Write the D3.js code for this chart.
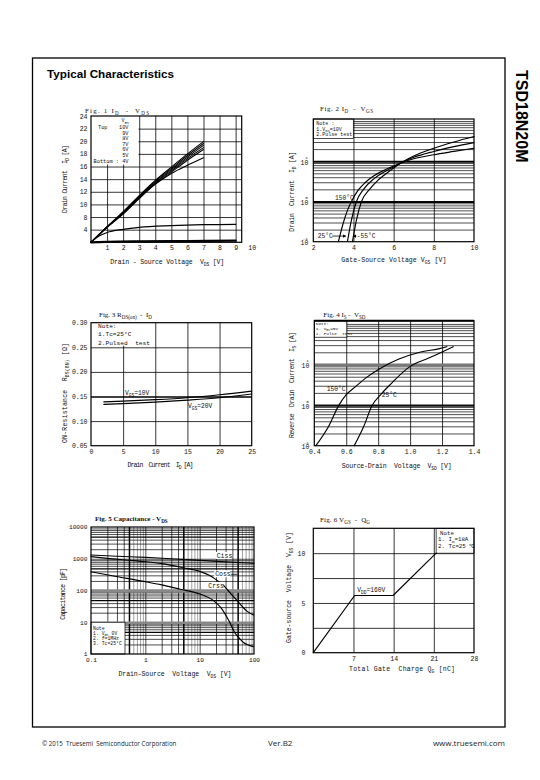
<!DOCTYPE html>
<html><head><meta charset="utf-8">
<script src="https://cdn.jsdelivr.net/npm/d3@7"></script>
<style>html,body{margin:0;padding:0;background:#fff;}</style>
</head><body>
<svg id="page" width="540" height="780"></svg>
<script>
// ================= DATA =================
// Fig.1  ID - VDS
const f1Vds   = [0, 1, 2, 3, 4, 5, 6, 7];
const f1Id10V = [0, 4.95, 8.85, 11.4, 13.8, 15.9, 18.0, 19.95];
const f1Id9V  = [0, 4.9, 8.75, 11.3, 13.65, 15.7, 17.75, 19.65];
const f1Id8V  = [0, 4.85, 8.65, 11.2, 13.5, 15.5, 17.5, 19.35];
const f1Id7V  = [0, 4.8, 8.55, 11.05, 13.35, 15.3, 17.25, 19.0];
const f1Id6V  = [0, 4.75, 8.45, 10.9, 13.2, 15.1, 17.0, 18.7];
const f1Id5V  = [0, 4.76, 8.7, 11.1, 13.2, 14.9, 16.2, 17.4];
const f1Vds4V = [0, 0.5, 1, 2, 3, 5, 7, 9];
const f1Id4V  = [0, 2.0, 3.1, 4.1, 4.75, 5.3, 5.6, 5.7];
const f1VdsLow = [0, 1, 3, 6, 9];
const f1IdLow  = [0, 0.15, 0.3, 0.4, 0.5];
const f1Legend = ["10V", "9V", "8V", "7V", "6V", "5V"];
const f1XTicks = [1, 2, 3, 4, 5, 6, 7, 8, 9, 10];
const f1YTicks = [24, 22, 20, 18, 16, 14, 12, 10, 8, 4];

// Fig.2  ID - VGS
const f2Vgs150 = [3.25, 3.5, 3.7, 3.9, 4.2, 4.6, 5.0, 5.5, 6.0, 6.5, 7.0, 8.0, 9.0, 10];
const f2Id150  = [0.1, 0.3, 0.6, 1.0, 1.8, 3.0, 4.3, 5.9, 7.6, 9.6, 11.5, 14.5, 17.5, 21];
const f2Vgs25  = [3.7, 3.9, 4.15, 4.5, 5.0, 5.5, 6.0, 6.5, 7.0, 8.0, 9.0, 10];
const f2Id25   = [0.1, 0.35, 1.0, 2.0, 3.6, 5.3, 7.3, 9.8, 12.5, 17.5, 23, 29];
const f2VgsM55 = [3.95, 4.15, 4.4, 4.8, 5.2, 5.6, 6.0, 6.5, 7.0, 8.0, 9.0, 10];
const f2IdM55  = [0.1, 0.35, 1.0, 2.0, 3.3, 4.8, 6.8, 10, 13.5, 21, 30, 41];
const f2XTicks = [2, 4, 6, 8, 10];
const f2YDecades = [0.1, 1, 10];

// Fig.3  RDS(on) - ID
const f3Id    = [2, 5, 10, 15, 20, 25];
const f3R10V  = [0.139, 0.1405, 0.1435, 0.1475, 0.1535, 0.161];
const f3R20V  = [0.134, 0.1355, 0.1385, 0.1425, 0.1475, 0.155];
const f3XTicks = [0, 5, 10, 15, 20, 25];
const f3YTicks = [0.05, 0.10, 0.15, 0.20, 0.25, 0.30];

// Fig.4  IS - VSD
const f4Vsd150 = [0.41, 0.49, 0.55, 0.6, 0.66, 0.73, 0.81, 0.93, 1.06, 1.19, 1.23];
const f4Is150  = [0.1, 0.3, 0.93, 1.8, 2.9, 4.9, 7.9, 13.6, 20, 25, 27.5];
const f4Vsd25  = [0.65, 0.71, 0.76, 0.82, 0.88, 1.0, 1.12, 1.27];
const f4Is25   = [0.1, 0.3, 0.95, 1.9, 3.35, 9.0, 14.6, 27.5];
const f4XTicks = [0.4, 0.6, 0.8, 1.0, 1.2, 1.4];
const f4YDecades = [0.1, 1, 10];

// Fig.5  Capacitance - VDS
const f5VdsCiss = [0.1, 0.3, 1, 3, 10, 30, 100];
const f5Ciss    = [1310, 1200, 1110, 1000, 890, 800, 720];
const f5VdsCoss = [0.1, 0.2, 0.5, 1, 2, 5, 10, 15, 20, 27, 35, 48, 60, 75, 98];
const f5Coss    = [1170, 1030, 900, 807, 700, 520, 400, 300, 220, 150, 90, 50, 32, 22, 17];
const f5VdsCrss = [0.1, 0.26, 1, 2, 4.4, 10, 18, 25, 34, 45, 55, 64, 80, 98];
const f5Crss    = [390, 287, 190, 150, 109, 78, 48, 28, 11.7, 4.5, 3.0, 2.3, 1.9, 1.7];
const f5XTicks = [0.1, 1, 10, 100];
const f5YTicks = [1, 10, 100, 1000, 10000];

// Fig.6  VGS - QG
const f6Qg  = [0, 7.2, 13.9, 21.4];
const f6Vgs = [0, 5.75, 5.75, 10];
const f6XTicks = [7, 14, 21, 28];
const f6YTicks = [0, 5, 10];

// ================= HELPERS =================
const svg = d3.select("#page");
const MONO = "'Liberation Mono','DejaVu Sans Mono',monospace";
const SERIF = "'Liberation Serif','DejaVu Serif',serif";
const SANS = "'Liberation Sans',Arial,sans-serif";

function rich(t, parts, fs) {
  let shift = 0;
  parts.forEach(p => {
    const s = typeof p === "string" ? {t: p} : p;
    const target = s.sub ? fs * 0.3 : (s.sup ? -fs * 0.45 : 0);
    const ts = t.append("tspan").text(s.t);
    if (target !== shift) ts.attr("dy", target - shift);
    if (s.sub || s.sup) ts.attr("font-size", fs * 0.72);
    shift = target;
  });
}
function label(g, x, y, parts, o = {}) {
  const fs = o.fs || 6.5;
  const t = g.append("text").attr("x", x).attr("y", y)
    .attr("font-family", o.ff || MONO).attr("font-size", fs)
    .attr("fill", o.fill || "#111").attr("text-anchor", o.anchor || "start")
    .style("white-space", "pre");
  if (o.rot) t.attr("transform", `rotate(${o.rot},${x},${y})`);
  if (o.len) t.attr("textLength", o.len).attr("lengthAdjust", "spacing");
  if (o.weight) t.attr("font-weight", o.weight);
  rich(t, typeof parts === "string" ? [parts] : parts, fs);
  return t;
}
const sub = t => ({t, sub: true});

function gridV(g, scale, vals, F, w = 0.7, c = "#000") {
  const a = g.append("g").attr("transform", `translate(0,${F.b})`)
    .call(d3.axisBottom(scale).tickValues(vals).tickSize(-(F.b - F.t)).tickFormat(""));
  a.select(".domain").remove();
  a.selectAll("line").attr("stroke", c).attr("stroke-width", w);
}
function gridH(g, scale, vals, F, w = 0.7, c = "#000", x0 = F.l) {
  const a = g.append("g").attr("transform", `translate(${F.r},0)`)
    .call(d3.axisLeft(scale).tickValues(vals).tickSize(F.r - x0).tickFormat(""));
  a.select(".domain").remove();
  a.selectAll("line").attr("stroke", c).attr("stroke-width", w);
}
function xLabels(g, scale, vals, F, fmt, pad = 3.5, fs = 6.5) {
  const a = g.append("g").attr("transform", `translate(0,${F.b})`)
    .call(d3.axisBottom(scale).tickValues(vals).tickSize(0).tickPadding(pad).tickFormat(fmt));
  a.select(".domain").remove();
  a.selectAll("text").attr("font-family", MONO).attr("font-size", fs).attr("fill", "#111");
  return a;
}
function yLabels(g, scale, vals, F, fmt, pad = 3, fs = 6.5) {
  const a = g.append("g").attr("transform", `translate(${F.l},0)`)
    .call(d3.axisLeft(scale).tickValues(vals).tickSize(0).tickPadding(pad).tickFormat(fmt));
  a.select(".domain").remove();
  a.selectAll("text").attr("font-family", MONO).attr("font-size", fs).attr("fill", "#111");
  return a;
}
function yPowLabels(g, scale, vals, F) {
  vals.forEach(v => {
    const y = scale(v);
    label(g, F.l - 5, y + 3.5, "10", {fs: 6.5, anchor: "end"});
    label(g, F.l - 5.5, y - 2.2, String(Math.round(Math.log10(v))), {fs: 4.3, anchor: "end"});
  });
}
function frame(g, F, w = 1.2) {
  g.append("rect").attr("x", F.l).attr("y", F.t).attr("width", F.r - F.l).attr("height", F.b - F.t)
    .attr("fill", "none").attr("stroke", "#000").attr("stroke-width", w);
}
function curve(g, xs, ys, xS, yS, w = 1.15, c = d3.curveMonotoneX) {
  g.append("path").attr("d", d3.line().x(d => xS(d[0])).y(d => yS(d[1])).curve(c)(d3.zip(xs, ys)))
    .attr("fill", "none").attr("stroke", "#000").attr("stroke-width", w)
    .attr("stroke-linejoin", "round").attr("stroke-linecap", "round");
}
function box(g, x, y, w, h, stroke = true) {
  g.append("rect").attr("x", x).attr("y", y).attr("width", w).attr("height", h)
    .attr("fill", "#fff").attr("stroke", stroke ? "#000" : "none").attr("stroke-width", 0.7);
}
function logMinor(decades, maxV) {
  const out = [];
  decades.forEach(d => { for (let m = 2; m <= 9; m++) if (m * d <= maxV) out.push(m * d); });
  return out;
}

svg.append("defs").append("marker").attr("id", "arr").attr("viewBox", "0 0 6 6")
  .attr("refX", 5.5).attr("refY", 3).attr("markerWidth", 4).attr("markerHeight", 4).attr("orient", "auto")
  .append("path").attr("d", "M0,0 L6,3 L0,6 Z").attr("fill", "#000");

// ================= PAGE =================
svg.append("rect").attr("x", 32.5).attr("y", 58).attr("width", 472.5).attr("height", 669)
  .attr("fill", "none").attr("stroke", "#000").attr("stroke-width", 1.3);
label(svg, 47, 78, "Typical Characteristics", {ff: SANS, fs: 11.7, weight: "bold", fill: "#000"});
label(svg, 516, 70, "TSD18N20M", {ff: SANS, fs: 16, weight: "bold", fill: "#000", rot: 90});
label(svg, 42, 745.5, "\u00a9 2015  Truesemi  Semiconductor Corporation", {ff: "'Open Sans',sans-serif", fs: 6.2, fill: "#222"});
label(svg, 268, 745.5, "Ver.B2", {ff: "'Open Sans',sans-serif", fs: 8, fill: "#222"});
label(svg, 505, 746, "www.truesemi.com", {ff: "'Open Sans',sans-serif", fs: 8, fill: "#222", anchor: "end"});

// ================= FIG 1 =================
{
  const F = {l: 91, r: 241.7, t: 116, b: 242.3};
  const g = svg.append("g");
  const x = d3.scaleLinear().domain([0, 10]).range([F.l, 251.7]);
  const s = (F.b - F.t) / 10;
  const y = d3.scaleLinear().domain([0, 4, 8, 24]).range([F.b, F.b - s, F.b - 2 * s, F.t]);
  gridV(g, x, f1XTicks.filter(v => v < 9.5), F, 0.8);
  gridH(g, y, f1YTicks.filter(v => v < 24), F, 0.8);
  box(g, F.l, F.t, 47.5, 48.5, false);
  frame(g, F);
  label(g, 121.5, 122, ["V", sub("GS")], {fs: 5});
  label(g, 98, 129, "Top", {fs: 5.3});
  f1Legend.forEach((v, i) => label(g, 128.5, 129 + i * 5.6, v, {fs: 5.3, anchor: "end"}));
  label(g, 128.5, 162.5, "Bottom : 4V", {fs: 5.3, anchor: "end"});
  [f1Id10V, f1Id9V, f1Id8V, f1Id7V, f1Id6V, f1Id5V].forEach(s => curve(g, f1Vds, s, x, y, 1.05));
  curve(g, f1Vds4V, f1Id4V, x, y, 1.2);
  curve(g, f1VdsLow, f1IdLow, x, y, 2.2);
  yLabels(g, y, f1YTicks, F, d => d, 3.5);
  xLabels(g, x, f1XTicks, F, d => d, 3.5);
  label(g, 85, 112.5, ["Fig. 1 I", sub("D"), "  -  V", sub("DS")], {ff: SERIF, fs: 7, len: 64});
  label(g, 167.2, 264, ["Drain - Source Voltage  V", sub("DS"), " [V]"], {fs: 6.5, anchor: "middle", len: 114});
  label(g, 66.6, 179, ["Drain Current  I", sub("D"), " [A]"], {fs: 6.5, anchor: "middle", len: 68, rot: -90});
}

// ================= FIG 2 =================
{
  const F = {l: 313.3, r: 474, t: 119, b: 241.7};
  const g = svg.append("g");
  const x = d3.scaleLinear().domain([2, 10]).range([F.l, F.r]);
  const y = d3.scaleLog().domain([0.1, 112]).range([F.b, F.t]);
  gridV(g, x, [4, 6, 8], F, 0.8);
  gridH(g, y, logMinor(f2YDecades, 112).concat([100]), F, 0.7);
  gridH(g, y, [1, 10], F, 1.9);
  box(g, F.l, F.t, 40, 19.5);
  label(g, F.l + 3, F.t + 5.5, "Note :", {fs: 5});
  label(g, F.l + 3, F.t + 11.5, ["1.V", sub("DS"), "=10V"], {fs: 5});
  label(g, F.l + 3, F.t + 16.8, "2.Pulse test", {fs: 5});
  frame(g, F);
  curve(g, f2Vgs150, f2Id150, x, y);
  curve(g, f2Vgs25, f2Id25, x, y);
  curve(g, f2VgsM55, f2IdM55, x, y);
  label(g, x(3.08), y(1.25) + 2.2, "150\u00b0C", {fs: 6.3});
  label(g, x(2.22), y(0.138) + 2.2, "25\u00b0C", {fs: 6.3});
  g.append("line").attr("x1", x(2.95)).attr("x2", x(3.62)).attr("y1", y(0.138)).attr("y2", y(0.138))
    .attr("stroke", "#000").attr("stroke-width", 0.8).attr("marker-end", "url(#arr)");
  g.append("line").attr("x1", x(4.14)).attr("x2", x(3.98)).attr("y1", y(0.138)).attr("y2", y(0.138))
    .attr("stroke", "#000").attr("stroke-width", 0.8).attr("marker-end", "url(#arr)");
  label(g, x(4.16), y(0.138) + 2.2, "-55\u00b0C", {fs: 6.3});
  yPowLabels(g, y, f2YDecades, F);
  xLabels(g, x, f2XTicks, F, d => d, 4);
  label(g, 320, 110.6, ["Fig. 2 I", sub("D"), "  -  V", sub("GS")], {ff: SERIF, fs: 7, len: 53});
  label(g, 393.8, 261.6, ["Gate-Source Voltage V", sub("GS"), " [V]"], {fs: 6.5, anchor: "middle", len: 105});
  label(g, 294, 191.7, ["Drain  Current  I", sub("D"), " [A]"], {fs: 6.5, anchor: "middle", len: 80, rot: -90});
}

// ================= FIG 3 =================
{
  const F = {l: 91, r: 251.7, t: 322.7, b: 445.7};
  const g = svg.append("g");
  const x = d3.scaleLinear().domain([0, 25]).range([F.l, F.r]);
  const y = d3.scaleLinear().domain([0.05, 0.30]).range([F.b, F.t]);
  gridV(g, x, [5, 10, 15, 20], F, 0.8);
  gridH(g, y, [0.10, 0.20, 0.25], F, 0.8);
  gridH(g, y, [0.15], F, 1.5);
  box(g, F.l + 0.5, F.t + 0.5, 58, 22.5, false);
  label(g, 98, 327.5, "Note:", {fs: 6.2});
  label(g, 98, 335.8, "1.Tc=25\u00b0C", {fs: 6.2});
  label(g, 98, 344.6, "2.Pulsed  test", {fs: 6.2});
  frame(g, F);
  curve(g, f3Id, f3R10V, x, y);
  curve(g, f3Id, f3R20V, x, y);
  label(g, x(5.3), y(0.1577) + 2.2, ["V", sub("GS"), "=10V"], {fs: 6.3});
  label(g, x(15.1), y(0.1307) + 2.2, ["V", sub("GS"), "=20V"], {fs: 6.3});
  yLabels(g, y, f3YTicks, F, d3.format(".2f"), 3.5);
  xLabels(g, x, f3XTicks, F, d => d, 4);
  label(g, 99, 317.3, ["Fig. 3 R", sub("DS(on)"), "  -  I", sub("D")], {ff: SERIF, fs: 7});
  label(g, 160.5, 466.6, ["Drain  Current  I", sub("D"), " [A]"], {fs: 6.5, anchor: "middle", len: 66});
  label(g, 67.3, 393, ["ON-Resistance  R", sub("DS(ON)"), " [\u03a9]"], {fs: 6.5, anchor: "middle", len: 100, rot: -90});
}

// ================= FIG 4 =================
{
  const F = {l: 314.3, r: 474, t: 320.7, b: 445.7};
  const g = svg.append("g");
  const x = d3.scaleLinear().domain([0.4, 1.4]).range([F.l, F.r]);
  const y = d3.scaleLog().domain([0.1, 120]).range([F.b, F.t]);
  gridV(g, x, [0.6, 0.8, 1.0, 1.2], F, 0.8);
  gridH(g, y, logMinor(f4YDecades, 120).concat([100]), F, 0.7);
  gridH(g, y, [10], F, 3.2, "#777");
  gridH(g, y, [1], F, 2.2, "#111");
  box(g, F.l, F.t, 32.5, 16.5);
  label(g, F.l + 1.5, F.t + 4.3, "Note:", {fs: 4.4});
  label(g, F.l + 1.5, F.t + 9.3, ["1. V", sub("GS"), "=0V"], {fs: 4.4});
  label(g, F.l + 1.5, F.t + 14.6, "2. Pulse  test", {fs: 4.4});
  frame(g, F);
  g.append("line").attr("x1", F.l).attr("x2", F.r).attr("y1", F.t).attr("y2", F.t).attr("stroke", "#000").attr("stroke-width", 2);
  curve(g, f4Vsd150, f4Is150, x, y);
  curve(g, f4Vsd25, f4Is25, x, y);
  label(g, x(0.478), y(2.59) + 2.2, "150\u00b0C", {fs: 6.3});
  label(g, x(0.822), y(1.77) + 2.2, "25\u00b0C", {fs: 6.3});
  yPowLabels(g, y, f4YDecades, F);
  xLabels(g, x, f4XTicks, F, d3.format(".1f"), 4);
  label(g, 323.3, 317.3, ["Fig. 4 I", sub("S"), " -  V", sub("SD")], {ff: SERIF, fs: 7});
  label(g, 396.7, 468, ["Source-Drain  Voltage  V", sub("SD"), " [V]"], {fs: 6.5, anchor: "middle", len: 110});
  label(g, 294, 385, ["Reverse  Drain  Current  I", sub("S"), " [A]"], {fs: 6.5, anchor: "middle", len: 106, rot: -90});
}

// ================= FIG 5 =================
{
  const F = {l: 91, r: 254, t: 527, b: 654};
  const g = svg.append("g");
  const x = d3.scaleLog().domain([0.1, 100]).range([F.l, F.r]);
  const y = d3.scaleLog().domain([1, 10000]).range([F.b, F.t]);
  const vx = [], vxGrey = [], vx5 = [];
  [0.1, 1, 10].forEach(d => { for (let m = 1; m <= 9; m++) { if (d === 0.1 && m === 1) continue;
    const v = m * d; if (m === 5) vx5.push(v); else if (m >= 6) vxGrey.push(v); else vx.push(v); } });
  gridV(g, x, vx, F, 0.7);
  gridV(g, x, vxGrey, F, 0.9, "#999");
  gridV(g, x, vx5, F, 1.5);
  const hy = [], hy5 = [];
  [1, 10, 100, 1000].forEach(d => { for (let m = 2; m <= 9; m++) { const v = m * d; if (m === 5) hy5.push(v); else hy.push(v); } });
  gridH(g, y, hy.concat([1000]), F, 0.7);
  gridH(g, y, hy5, F, 1.3);
  gridH(g, y, [10], F, 2.6, "#888");
  gridH(g, y, [100], F, 3.6, "#888");
  box(g, F.l, y(10), 34, F.b - y(10));
  label(g, F.l + 2, 629.5, "Note", {fs: 4.8});
  label(g, F.l + 2, 634.8, ["1. V", sub("GS"), " 0V"], {fs: 4.8});
  label(g, F.l + 2, 640.1, "2. f=1MHz", {fs: 4.8});
  label(g, F.l + 2, 645.4, "3. Tc=25\u00b0C", {fs: 4.8});
  frame(g, F);
  curve(g, f5VdsCiss, f5Ciss, x, y);
  curve(g, f5VdsCoss, f5Coss, x, y);
  curve(g, f5VdsCrss, f5Crss, x, y);
  const capLabels = [["Ciss", 20.6, 1222], ["Coss", 19.3, 324], ["Crss", 14.4, 139]];
  capLabels.forEach(([t, vx, vy]) => {
    g.append("rect").attr("x", x(vx) - 1).attr("y", y(vy) - 4).attr("width", 16).attr("height", 7).attr("fill", "#fff");
    label(g, x(vx), y(vy) + 2.2, t, {fs: 6.5});
  });
  g.append("line").attr("x1", x(19.3) + 16).attr("x2", x(19.3) + 22).attr("y1", y(324)).attr("y2", y(324)).attr("stroke", "#000").attr("stroke-width", 0.8);
  yLabels(g, y, f5YTicks, F, d => d, 3.5, 6.2);
  xLabels(g, x, f5XTicks, F, d => d, 4, 6.2);
  label(g, 95, 521.3, ["Fig. 5 Capacitance - V", sub("DS")], {ff: SERIF, fs: 7, weight: "bold"});
  label(g, 175, 675.6, ["Drain\u2013Source  Voltage  V", sub("DS"), " [V]"], {fs: 6.5, anchor: "middle", len: 113});
  label(g, 64.6, 593.8, "Capacitance [pF]", {fs: 6.5, anchor: "middle", len: 52, rot: -90});
}

// ================= FIG 6 =================
{
  const F = {l: 313.3, r: 474, t: 528.3, b: 652.7};
  const g = svg.append("g");
  const x = d3.scaleLinear().domain([0, 28]).range([F.l, F.r]);
  const y = d3.scaleLinear().domain([0, 12.5]).range([F.b, F.t]);
  gridV(g, x, [7, 14, 21], F, 0.8);
  gridH(g, y, [2.5, 5, 7.5, 10], F, 0.8);
  box(g, x(21.4), F.t, F.r - x(21.4), y(10) - F.t);
  label(g, 440, 534.5, "Note", {fs: 5.8});
  label(g, 438, 540.8, ["1. I", sub("D"), "=18A"], {fs: 5.8});
  label(g, 438, 547.6, "2. Tc=25 \u2103", {fs: 5.8});
  frame(g, F);
  curve(g, f6Qg, f6Vgs, x, y, 1.15, d3.curveLinear);
  label(g, x(7.66), y(6.3) + 2.2, ["V", sub("DD"), "=160V"], {fs: 6.3});
  yLabels(g, y, f6YTicks, F, d => d, 8);
  xLabels(g, x, f6XTicks, F, d => d, 4);
  label(g, 320, 522.3, ["Fig. 6 V", sub("GS"), "  -  Q", sub("G")], {ff: SERIF, fs: 7, len: 50});
  label(g, 402, 670.6, ["Total Gate  Charge Q", sub("G"), " [nC]"], {fs: 6.5, anchor: "middle", len: 106});
  label(g, 290.6, 587.5, ["Gate-source  Voltage  V", sub("GS"), " [V]"], {fs: 6.5, anchor: "middle", len: 111, rot: -90});
}
</script>
</body></html>
